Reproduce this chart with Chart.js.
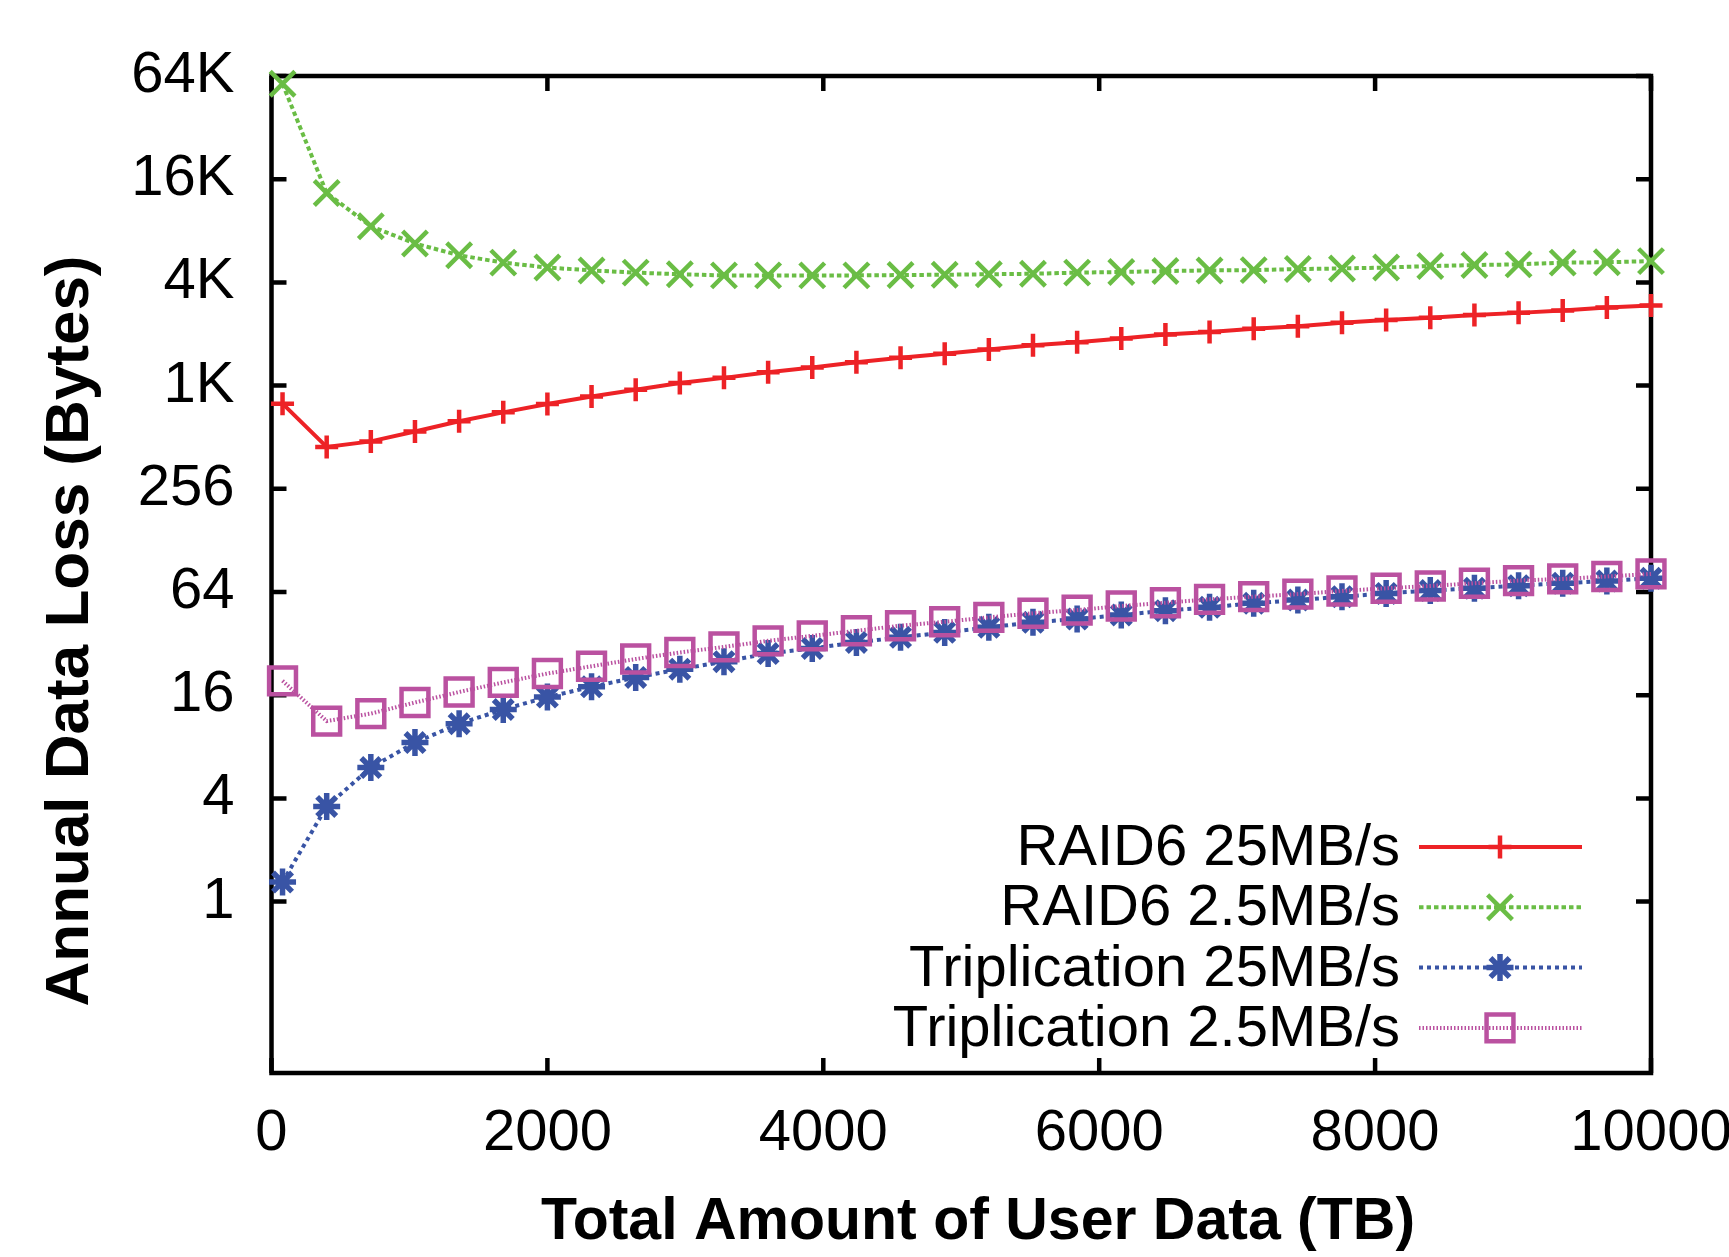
<!DOCTYPE html>
<html>
<head>
<meta charset="utf-8">
<script src="https://cdn.jsdelivr.net/npm/chart.js@4.4.1/dist/chart.umd.min.js"></script>
<style>
  html, body { margin: 0; padding: 0; background: #fff; }
  #wrap { width: 1729px; height: 1257px; }
</style>
</head>
<body>
<div id="wrap"><canvas id="myChart"></canvas></div>
<script>
// x values (TB) shared by every series
const userDataTB = [80, 400, 720, 1040, 1360, 1680, 2000, 2320, 2640, 2960, 3280, 3600, 3920, 4240, 4560, 4880,
    5200, 5520, 5840, 6160, 6480, 6800, 7120, 7440, 7760, 8080, 8400, 8720, 9040, 9360, 9680, 10000];

// annual data loss in bytes
const raid6Fast = [803, 449, 484, 553, 634, 715, 800, 885, 969, 1060, 1136, 1225, 1307, 1400, 1488, 1573,
    1663, 1758, 1833, 1925, 2034, 2106, 2195, 2273, 2385, 2470, 2545, 2640, 2720, 2810, 2920, 3005];
const raid6Slow = [59000, 13600, 8700, 6900, 5900, 5340, 5000, 4810, 4670, 4570, 4500, 4500, 4500, 4500, 4520, 4540,
    4570, 4600, 4670, 4710, 4770, 4810, 4830, 4900, 4940, 5000, 5100, 5170, 5220, 5340, 5370, 5450];
const triplFast = [1.30, 3.59, 6.05, 8.47, 10.9, 13.2, 15.6, 17.9, 20.3, 22.7, 25.1, 28.0, 30.0, 32.5, 34.8, 37.2,
    39.8, 42.6, 44.5, 47.0, 49.8, 52.1, 55.0, 57.4, 60.1, 62.8, 65.2, 67.3, 69.7, 72.0, 74.2, 77.0];
const triplSlow = [19.4, 11.3, 12.5, 14.5, 16.7, 19.0, 21.4, 23.6, 26.0, 28.4, 30.6, 33.2, 35.5, 38.0, 40.7, 42.9,
    45.5, 48.1, 50.2, 53.0, 55.4, 58.0, 60.1, 62.2, 64.9, 67.3, 69.4, 72.0, 74.6, 76.3, 78.8, 81.6];

const seriesNames = ['RAID6 25MB/s', 'RAID6 2.5MB/s', 'Triplication 25MB/s', 'Triplication 2.5MB/s'];
const yTickValues = [1, 4, 16, 64, 256, 1024, 4096, 16384, 65536];

const FONT = '"Liberation Sans", Arial, sans-serif';

function toPoints(vals) {
    return userDataTB.map((x, i) => ({x: x, y: vals[i]}));
}

//frame box with gnuplot style inward ticks
const frameAndTicks = {
    id: 'frameAndTicks',
    beforeDatasetsDraw(chart) {
        const {ctx, chartArea: a, scales} = chart;
        const len = 15;
        ctx.save();
        ctx.strokeStyle = '#000';
        ctx.lineWidth = 4.5;
        ctx.beginPath();
        scales.x.ticks.forEach(t => {
            const px = scales.x.getPixelForValue(t.value);
            ctx.moveTo(px, a.bottom); ctx.lineTo(px, a.bottom - len);
            ctx.moveTo(px, a.top); ctx.lineTo(px, a.top + len);
        });
        scales.y.ticks.forEach(t => {
            const py = scales.y.getPixelForValue(t.value);
            ctx.moveTo(a.left, py); ctx.lineTo(a.left + len, py);
            ctx.moveTo(a.right, py); ctx.lineTo(a.right - len, py);
        });
        ctx.stroke();
        ctx.strokeRect(a.left, a.top, a.right - a.left, a.bottom - a.top);
        ctx.restore();
    }
};

//axis titles placed like in the original figure
const axisTitles = {
    id: 'axisTitles',
    afterDraw(chart) {
        const {ctx} = chart;
        const o = chart.options.scales;
        ctx.save();
        ctx.fillStyle = '#000';
        ctx.textAlign = 'center';
        ctx.textBaseline = 'middle';
        ctx.font = 'bold 59px ' + FONT;
        ctx.fillText(o.x.title.text, 978, 1223);
        ctx.font = 'bold 62px ' + FONT;
        ctx.translate(71, 631);
        ctx.rotate(-Math.PI / 2);
        ctx.fillText(o.y.title.text, 0, 0);
        ctx.restore();
    }
};

//key inside the plot: text on the left, sample on the right
const sideKey = {
    id: 'sideKey',
    afterDatasetsDraw(chart) {
        const {ctx} = chart;
        ctx.save();
        chart.data.datasets.forEach((ds, i) => {
            const yy = 847 + i * 60.3;
            ctx.fillStyle = '#000';
            ctx.font = '58px ' + FONT;
            ctx.textAlign = 'right';
            ctx.textBaseline = 'middle';
            ctx.fillText(ds.label, 1400, yy + 2);
            ctx.strokeStyle = ds.borderColor;
            ctx.lineWidth = ds.borderWidth;
            ctx.setLineDash(ds.borderDash || []);
            ctx.beginPath();
            ctx.moveTo(1419, yy);
            ctx.lineTo(1582, yy);
            ctx.stroke();
            ctx.setLineDash([]);
            ctx.lineWidth = ds.pointBorderWidth;
            ctx.fillStyle = 'rgba(0,0,0,0)';
            Chart.helpers.drawPoint(ctx, {
                pointStyle: ds.pointStyle, radius: ds.pointRadius, rotation: 0, borderWidth: ds.pointBorderWidth
            }, 1500, yy);
        });
        ctx.restore();
    }
};

const colors = ['rgb(237, 34, 38)', 'rgb(106, 189, 69)', 'rgb(57, 84, 165)', 'rgb(186, 81, 160)'];

new Chart(document.getElementById('myChart'), {
    type: 'line',
    data: {
        datasets: [{
            label: seriesNames[0],
            data: toPoints(raid6Fast),
            borderColor: colors[0],
            borderWidth: 4,
            pointStyle: 'cross',
            pointRadius: 11.5,
            pointBorderWidth: 4.5,
            pointBorderColor: colors[0],
            order: 4
        }, {
            label: seriesNames[1],
            data: toPoints(raid6Slow),
            borderColor: colors[1],
            borderWidth: 4,
            borderDash: [4.5, 3],
            pointStyle: 'crossRot',
            pointRadius: 17.5,
            pointBorderWidth: 4.5,
            pointBorderColor: colors[1],
            order: 3
        }, {
            label: seriesNames[2],
            data: toPoints(triplFast),
            borderColor: colors[2],
            borderWidth: 4,
            borderDash: [4, 4],
            pointStyle: 'star',
            pointRadius: 13.5,
            pointBorderWidth: 5.5,
            pointBorderColor: colors[2],
            order: 2
        }, {
            label: seriesNames[3],
            data: toPoints(triplSlow),
            borderColor: colors[3],
            borderWidth: 4,
            borderDash: [1.5, 2],
            pointStyle: 'rect',
            pointRadius: 19,
            pointBorderWidth: 4.5,
            pointBorderColor: colors[3],
            order: 1
        }].map(d => Object.assign(d, {
            fill: false, tension: 0, clip: false,
            backgroundColor: 'rgba(0,0,0,0)', pointBackgroundColor: 'rgba(0,0,0,0)'
        }))
    },
    options: {
        responsive: true,
        maintainAspectRatio: false,
        animation: false,
        devicePixelRatio: 1,
        layout: { padding: { left: 0, right: 78, top: 76, bottom: 0 } },
        plugins: {
            legend: { display: false },
            tooltip: { enabled: false },
        },
        scales: {
            x: {
                type: 'linear',
                min: 0,
                max: 10000,
                grid: { display: false, drawTicks: false },
                border: { display: false },
                ticks: {
                    stepSize: 2000,
                    padding: 26,
                    color: '#000',
                    font: { family: FONT, size: 58 },
                    maxRotation: 0,
                    callback: v => String(v),
                },
                title: { display: false, text: 'Total Amount of User Data (TB)' },
                afterFit: s => { s.height = 184; s.paddingLeft = 0; s.paddingRight = 0; },
            },
            y: {
                type: 'logarithmic',
                min: 0.1,
                max: 65536,
                grid: { display: false, drawTicks: false },
                border: { display: false },
                afterBuildTicks: s => { s.ticks = yTickValues.map(v => ({value: v})); },
                ticks: {
                    padding: 37,
                    color: '#000',
                    font: { family: FONT, size: 58 },
                    callback: v => v >= 1024 ? (v / 1024) + 'K' : String(v),
                },
                title: { display: false, text: 'Annual Data Loss (Bytes)' },
                afterFit: s => { s.width = 271.5; s.paddingTop = 0; s.paddingBottom = 0; },
            },
        },
    },
    plugins: [frameAndTicks, sideKey, axisTitles],
});
</script>
</body>
</html>
